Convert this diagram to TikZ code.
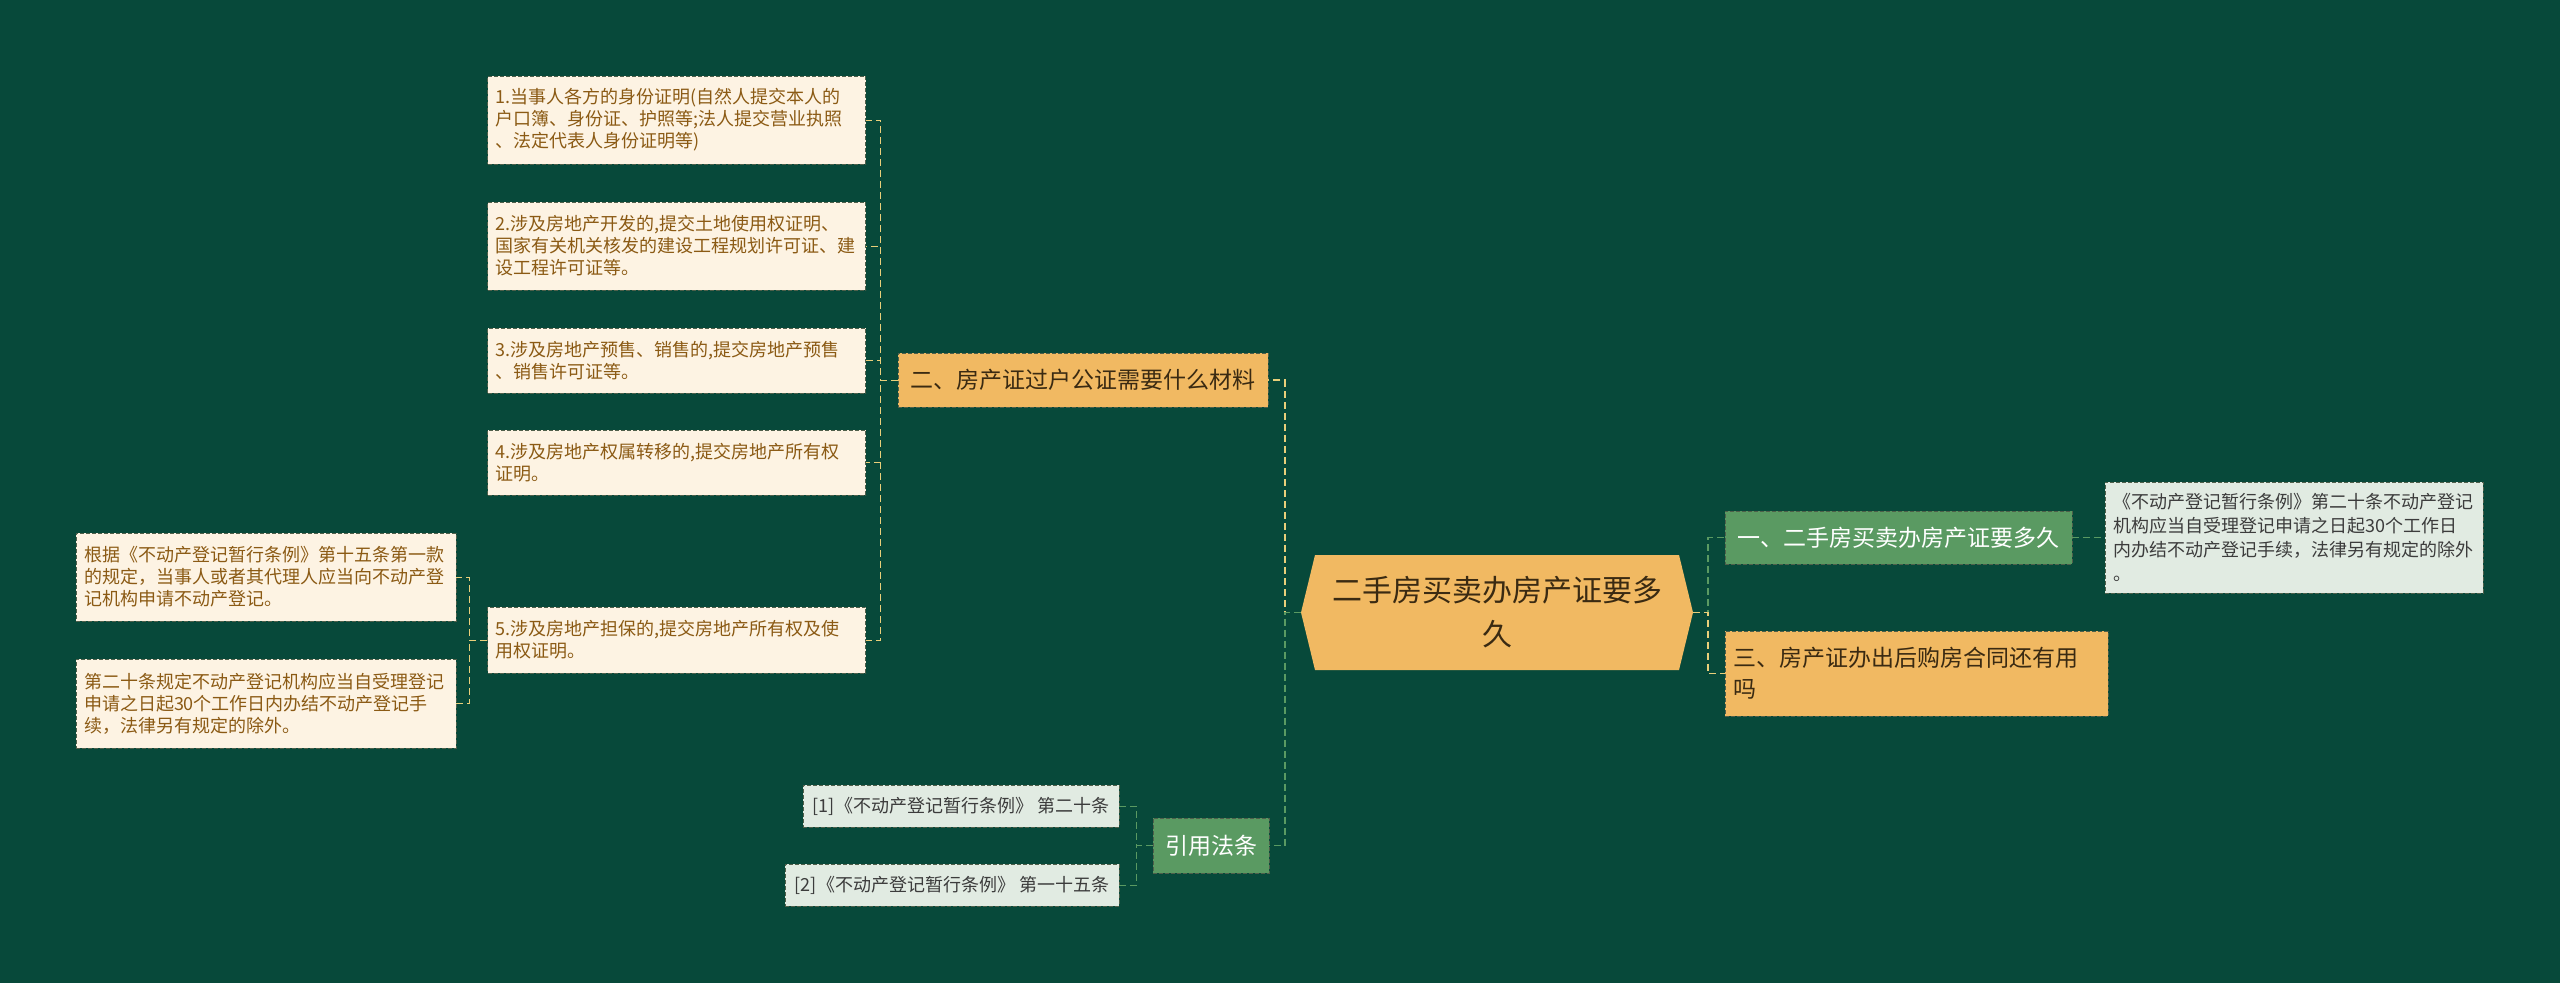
\documentclass[tikz,border=0pt]{standalone}
\usepackage{fontspec}
\setmainfont{Noto Sans CJK SC}
\definecolor{bgc}{HTML}{07493A}
\definecolor{orangec}{HTML}{F1B962}
\definecolor{creamc}{HTML}{FDF3E3}
\definecolor{paleg}{HTML}{E1EBE2}
\definecolor{greenc}{HTML}{5A9A62}
\definecolor{brownt}{HTML}{8B5A14}
\definecolor{darkt}{HTML}{3A2A12}
\definecolor{greyt}{HTML}{3C3C3C}
\definecolor{yline}{HTML}{E9CF7A}
\definecolor{gline}{HTML}{5A9A62}
\definecolor{edgec}{HTML}{4F5F4A}
\tikzset{
  box/.style={rectangle, draw=edgec, line width=0.8pt, dash pattern=on 4pt off 2pt, inner xsep=8pt, inner ysep=4pt},
  leaf/.style={box, fill=creamc, text=brownt, font=\fontsize{18}{22}\selectfont, align=left, text width=362pt},
  branch/.style={box, fill=orangec, text=darkt, font=\fontsize{23}{31}\selectfont},
  gbranch/.style={box, fill=greenc, text=white, font=\fontsize{23}{31}\selectfont},
  reference/.style={box, fill=paleg, text=greyt, font=\fontsize{18}{24}\selectfont},
  rootbox/.style={rectangle, fill=bgc, align=center, text=darkt, font=\fontsize{30}{44}\selectfont,
    path picture={\fill[orangec] (path picture bounding box.west)
      -- ([xshift=14pt]path picture bounding box.north west)
      -- ([xshift=-14pt]path picture bounding box.north east)
      -- (path picture bounding box.east)
      -- ([xshift=-14pt]path picture bounding box.south east)
      -- ([xshift=14pt]path picture bounding box.south west) -- cycle;}},
  ylink/.style={draw=yline, line width=1.5pt, dash pattern=on 7pt off 4pt},
  glink/.style={draw=gline, line width=1.5pt, dash pattern=on 7pt off 4pt}
}
\begin{document}
\begin{tikzpicture}[x=1pt,y=-1pt]
\fill[bgc] (0,0) rectangle (2560,983);
\useasboundingbox (0,0) rectangle (2560,983);

\node[rootbox, minimum width=392pt, minimum height=115pt] (root) at (1497,612.5) {二手房买卖办房产证要多\\久};

\node[branch, minimum width=370pt, minimum height=54pt] (m2) at (1083,380) {二、房产证过户公证需要什么材料};
\node[gbranch, minimum width=347pt, minimum height=53pt] (m1) at (1898.5,537.5) {一、二手房买卖办房产证要多久};
\node[branch, text width=367pt, align=left, minimum height=85pt] (m3) at (1916.5,673.5) {三、房产证办出后购房合同还有用\\吗};
\node[gbranch, minimum width=116pt, minimum height=55pt] (cite) at (1211,845.5) {引用法条};

\node[leaf, minimum height=88pt] (s1) at (676.5,120) {1.当事人各方的身份证明(自然人提交本人的\\户口簿、身份证、护照等;法人提交营业执照\\、法定代表人身份证明等)};
\node[leaf, minimum height=88pt] (s2) at (676.5,246) {2.涉及房地产开发的,提交土地使用权证明、\\国家有关机关核发的建设工程规划许可证、建\\设工程许可证等。};
\node[leaf, minimum height=65pt] (s3) at (676.5,360.5) {3.涉及房地产预售、销售的,提交房地产预售\\、销售许可证等。};
\node[leaf, minimum height=65pt] (s4) at (676.5,462.5) {4.涉及房地产权属转移的,提交房地产所有权\\证明。};
\node[leaf, minimum height=66pt] (s5) at (676.5,640) {5.涉及房地产担保的,提交房地产所有权及使\\用权证明。};

\node[leaf, text width=364pt, minimum height=88pt] (ta) at (266,577) {根据《不动产登记暂行条例》第十五条第一款\\的规定，当事人或者其代理人应当向不动产登\\记机构申请不动产登记。};
\node[leaf, text width=364pt, minimum height=89pt] (tb) at (266,703.5) {第二十条规定不动产登记机构应当自受理登记\\申请之日起30个工作日内办结不动产登记手\\续，法律另有规定的除外。};

\node[reference, text width=362pt, align=left, minimum height=111pt] (r1) at (2294,537.5) {《不动产登记暂行条例》第二十条不动产登记\\机构应当自受理登记申请之日起30个工作日\\内办结不动产登记手续，法律另有规定的除外\\。};

\node[reference, minimum width=316pt, minimum height=42pt] (c1) at (961,806) {[1]《不动产登记暂行条例》 第二十条};
\node[reference, minimum width=334pt, minimum height=42pt] (c2) at (952,885) {[2]《不动产登记暂行条例》 第一十五条};

\draw[ylink] (root.west) -- ++(-16,0) |- (m2.east);
\draw[glink] (root.west) -- ++(-16,0) |- (cite.east);
\draw[glink] (root.east) -- ++(15,0) |- (m1.west);
\draw[ylink] (root.east) -- ++(15,0) |- (m3.west);
\draw[glink, line width=1pt] (m1.east) -- (r1.west);
\foreach \i in {1,...,5}
  \draw[ylink, line width=1pt] (m2.west) -- ++(-17,0) |- (s\i.east);
\foreach \i in {a,b}
  \draw[ylink, line width=1pt] (s5.west) -- ++(-18,0) |- (t\i.east);
\foreach \i in {1,2}
  \draw[glink, line width=1pt] (cite.west) -- ++(-16,0) |- (c\i.east);
\end{tikzpicture}
\end{document}
